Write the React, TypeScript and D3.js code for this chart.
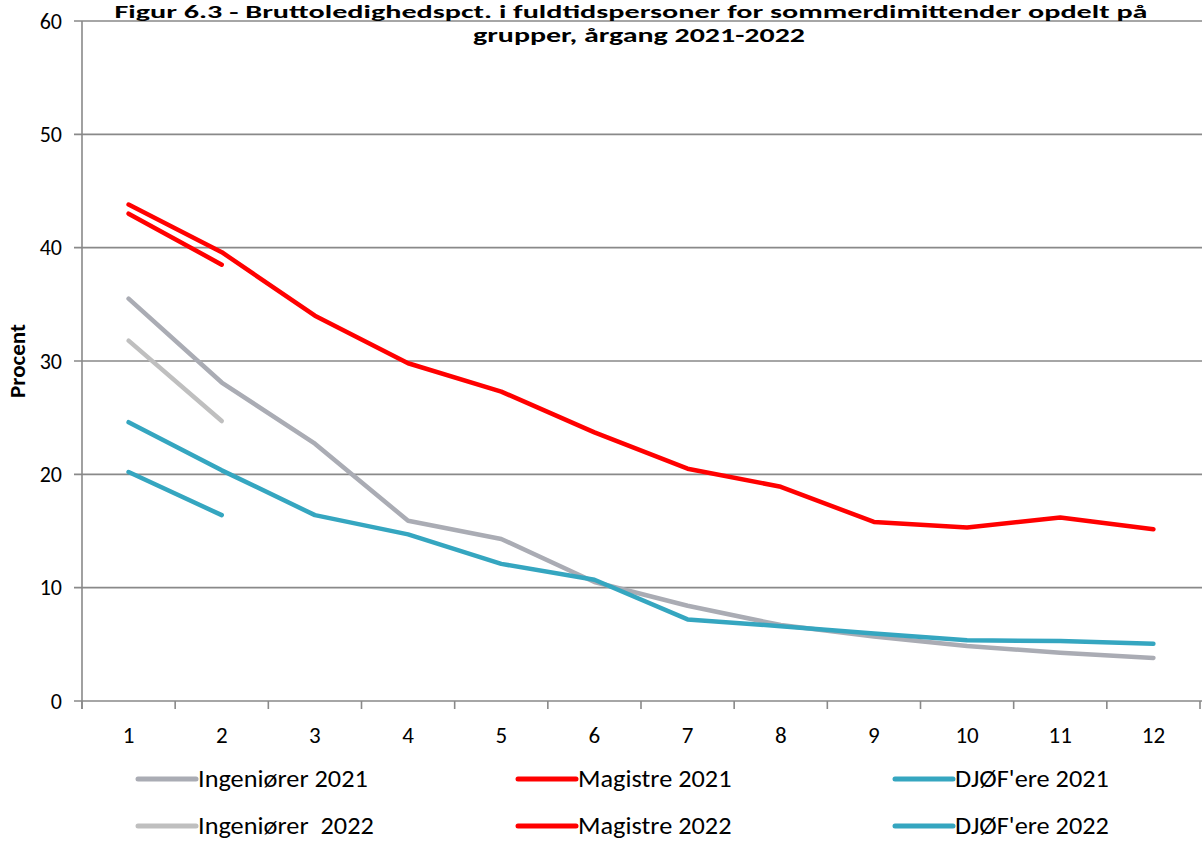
import React from "react";
import * as d3 from "d3";

const months = [1, 2, 3, 4, 5, 6, 7, 8, 9, 10, 11, 12];
const yTicks = [0, 10, 20, 30, 40, 50, 60];

const ingenioerer2021 = [35.5, 28.1, 22.7, 15.9, 14.3, 10.5, 8.4, 6.7, 5.7, 4.85, 4.25, 3.8];
const ingenioerer2022 = [31.8, 24.7];
const magistre2021 = [43.8, 39.6, 34.0, 29.8, 27.3, 23.7, 20.5, 18.9, 15.8, 15.3, 16.2, 15.15];
const magistre2022 = [43.0, 38.5];
const djoef2021 = [24.6, 20.35, 16.4, 14.7, 12.1, 10.7, 7.2, 6.6, 5.95, 5.35, 5.3, 5.05];
const djoef2022 = [20.2, 16.4];

const titleLines = [
  "Figur 6.3 - Bruttoledighedspct. i fuldtidspersoner for sommerdimittender opdelt på",
  "grupper, årgang 2021-2022",
];
const yAxisTitle = "Procent";

const seriesNames = [
  "Ingeniører 2021",
  "Ingeniører  2022",
  "Magistre 2021",
  "Magistre 2022",
  "DJØF'ere 2021",
  "DJØF'ere 2022",
];
const seriesData = [ingenioerer2021, ingenioerer2022, magistre2021, magistre2022, djoef2021, djoef2022];
const seriesColors = ["#AAACB4", "#BFBFBF", "#FF0000", "#FF0000", "#35A6C0", "#35A6C0"];

const W = 1202;
const H = 841;
const L = 82;
const R = 1200;
const T = 21;
const B = 701;
const font = "Carlito, 'Liberation Sans Narrow', 'Open Sans', sans-serif";
const gridColor = "#898989";

function SText({
  x,
  y,
  sx = 1,
  anchor = "start",
  size,
  weight = "normal",
  children,
}: {
  x: number;
  y: number;
  sx?: number;
  anchor?: string;
  size: number;
  weight?: string;
  children: React.ReactNode;
}) {
  return (
    <text
      transform={`translate(${x},${y}) scale(${sx},1)`}
      textAnchor={anchor as any}
      dy="0.35em"
      fontSize={size}
      fontWeight={weight}
      fill="#000"
      style={{ whiteSpace: "pre" }}
    >
      {children}
    </text>
  );
}

export default function App() {
  const x = d3.scaleBand<number>().domain(months).range([L, R]).paddingInner(0).paddingOuter(0);
  const y = d3.scaleLinear().domain([0, 60]).range([B, T]);
  const cx = (m: number) => (x(m) as number) + x.bandwidth() / 2;
  const line = d3
    .line<number>()
    .x((_, i) => cx(months[i]))
    .y((v) => y(v));

  const boundaries = d3.range(months.length + 1).map((i) => L + i * x.bandwidth());

  const legendCols = [138, 518, 895];
  const legendRows = [779, 826];

  return (
    <svg
      width={W}
      height={H}
      style={{ position: "absolute", left: 0, top: 0, background: "#fff" }}
      fontFamily={font}
    >
      <rect x={0} y={0} width={W} height={H} fill="#fff" />
      {yTicks.map((t) => (
        <line key={"g" + t} x1={74} x2={R + 2} y1={y(t)} y2={y(t)} stroke={gridColor} strokeWidth={1.6} />
      ))}
      <line x1={L} x2={L} y1={T} y2={B + 8} stroke={gridColor} strokeWidth={1.6} />
      {boundaries.map((bx, i) => (
        <line key={"xt" + i} x1={bx} x2={bx} y1={B} y2={B + 8} stroke={gridColor} strokeWidth={1.6} />
      ))}
      {yTicks.map((t) => (
        <SText key={"yl" + t} x={62} y={y(t)} anchor="end" size={22}>
          {t}
        </SText>
      ))}
      {months.map((m) => (
        <SText key={"xl" + m} x={cx(m)} y={735} anchor="middle" size={23}>
          {m}
        </SText>
      ))}
      <text
        transform={`translate(25,${361}) rotate(-90)`}
        textAnchor="middle"
        fontSize={23}
        fontWeight="bold"
        fill="#000"
      >
        {yAxisTitle}
      </text>
      {seriesData.map((d, i) => (
        <path
          key={"s" + i}
          d={line(d) as string}
          fill="none"
          stroke={seriesColors[i]}
          strokeWidth={4.5}
          strokeLinejoin="round"
          strokeLinecap="round"
        />
      ))}
      <text
        x={631}
        y={18}
        textAnchor="middle"
        fontSize={19}
        fontWeight="bold"
        fill="#000"
        textLength={1033}
        lengthAdjust="spacingAndGlyphs"
      >
        {titleLines[0]}
      </text>
      <text
        x={639}
        y={42}
        textAnchor="middle"
        fontSize={20}
        fontWeight="bold"
        fill="#000"
        textLength={332}
        lengthAdjust="spacingAndGlyphs"
      >
        {titleLines[1]}
      </text>
      {seriesNames.map((name, i) => {
        const col = Math.floor(i / 2);
        const row = i % 2;
        const lx = legendCols[col];
        const ly = legendRows[row];
        return (
          <g key={"lg" + i}>
            <line x1={lx} x2={lx + 58} y1={ly} y2={ly} stroke={seriesColors[i]} strokeWidth={5} strokeLinecap="round" />
            <SText x={lx + 60} y={ly} sx={1.12} size={23.5}>
              {name}
            </SText>
          </g>
        );
      })}
    </svg>
  );
}
